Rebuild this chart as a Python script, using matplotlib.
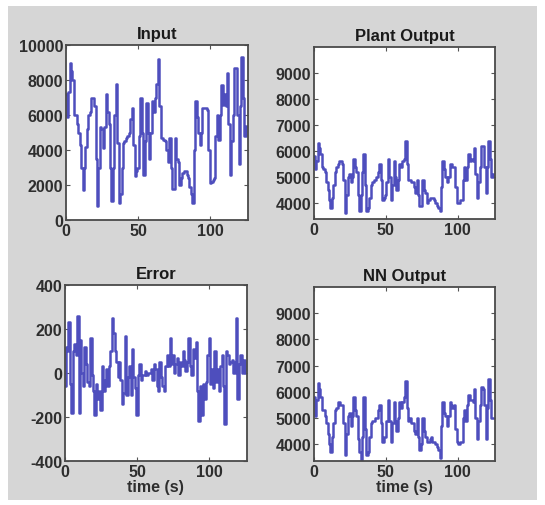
import matplotlib
matplotlib.use("Agg")
import matplotlib.pyplot as plt
import numpy as np
from matplotlib.patches import Rectangle

time_s = np.arange(126)

input_sig = [7200, 5900, 7300, 9000, 8500, 8000, 6000, 6000, 5500, 5000,
             4300, 3000, 1700, 3000, 4200, 5200, 6000, 6200, 7000, 7000,
             6500, 3500, 800, 3000, 5300, 5200, 4100, 5300, 7200, 6200,
             5500, 3000, 1100, 3000, 6000, 7800, 4400, 1000, 1500, 3000,
             4400, 4500, 4700, 4800, 5000, 5800, 6400, 4300, 2500, 2800,
             3000, 4800, 7000, 5000, 2600, 4500, 6700, 5000, 3500, 5000,
             6800, 6200, 7000, 7800, 9200, 6500, 4700, 4700, 4600, 4500,
             4000, 3300, 4700, 3000, 1800, 1800, 4700, 3500, 3300, 2000,
             2400, 2700, 2800, 2800, 2600, 2400, 1900, 1500, 1000, 4000,
             6800, 5900, 5000, 4300, 5000, 6400, 6400, 6400, 6300, 4000,
             2100, 2200, 2300, 2400, 4800, 6000, 4600, 6000, 7700, 6600,
             7200, 6500, 8400, 5500, 2600, 4500, 6000, 8700, 8700, 6000,
             3200, 6500, 9300, 7000, 4800, 5400]

plant_out = [5800, 5300, 5600, 6300, 6100, 5900, 5400, 5300, 5200, 4800,
             4500, 4100, 3800, 4200, 4700, 5200, 5400, 5500, 5600, 5600,
             5500, 4900, 3600, 4300, 5000, 5100, 4800, 5000, 5700, 5400,
             5200, 4300, 3700, 4300, 5200, 5900, 4700, 3700, 3800, 4200,
             4700, 4800, 4900, 4900, 5000, 5200, 5500, 4900, 4100, 4200,
             4300, 4800, 5700, 5000, 4100, 4700, 5600, 5000, 4500, 4900,
             5500, 5400, 5600, 5700, 6400, 5500, 4900, 4900, 4800, 4800,
             4600, 4400, 4900, 4300, 3900, 3900, 4900, 4500, 4400, 4000,
             4100, 4200, 4200, 4200, 4100, 4000, 3900, 3800, 3700, 4600,
             5600, 5300, 5000, 4800, 5000, 5500, 5500, 5400, 5400, 4600,
             4000, 4000, 4100, 4100, 4900, 5400, 4900, 5400, 5900, 5600,
             5700, 5600, 6100, 5100, 4200, 4800, 5400, 6200, 6200, 5400,
             4400, 5400, 6400, 5700, 5000, 5100]

nn_out = [5800, 5100, 5700, 6350, 6100, 5800, 5300, 5300, 5100, 4800,
          4400, 4000, 3700, 4300, 4800, 5300, 5400, 5600, 5600, 5500,
          5500, 4800, 3600, 4400, 5100, 5200, 4700, 5100, 5800, 5300,
          5100, 4200, 3700, 3400, 4300, 5800, 4600, 3600, 3700, 4300,
          4800, 4900, 4900, 5000, 5000, 5300, 5500, 4800, 4100, 4300,
          4300, 4900, 5700, 4900, 4100, 4800, 5600, 4900, 4500, 5000,
          5600, 5400, 5600, 5800, 6400, 5400, 4900, 5000, 4800, 4800,
          4500, 4400, 5000, 4300, 3800, 4000, 5000, 4500, 4300, 4100,
          4100, 4200, 4300, 4100, 4100, 4000, 3900, 3800, 3500, 4700,
          5600, 5200, 5100, 4700, 5100, 5600, 5500, 5400, 5500, 4600,
          4100, 4000, 4100, 4100, 5000, 5300, 4900, 5500, 5900, 5700,
          5700, 5600, 6100, 5000, 4200, 4900, 5500, 6200, 6100, 5500,
          4200, 5400, 6500, 5700, 5000, 5000]

error_sig = [-60, 120, 100, 230, -50, -180, 100, 130, 80, 260,
             -180, 150, 0, -60, 120, 40, -40, -60, 160, -10,
             -80, -190, -50, -120, -80, -170, 30, -80, -30, 20,
             -60, 30, 100, 250, 180, 100, 50, -20, 50, -30,
             -140, -90, 170, -100, -20, 30, -100, 110, -20, -70,
             -190, -10, 40, -30, -10, -10, 10, -10, 0, 0,
             20, -30, 40, 20, -60, -80, 50, -20, -60, -80,
             30, 80, 30, 160, 40, 80, 0, 40, 70, -10,
             50, 30, 100, 60, 10, 50, 160, 30, -10, 110,
             70, 140, -80, -220, -60, -190, -50, -120, -40, 80,
             160, -50, 20, -70, 100, -40, 20, -80, 30, 80,
             -60, -230, 100, 80, 40, 50, 60, 0, 50, 250,
             -120, 40, 80, 0, 60, 0]

titles = ["Input", "Plant Output", "Error", "NN Output"]


def draw_panel(ax, y, title, ylim, yticks, xlabel=None):
	ax.plot(time_s, y, color="#4e4ebd", lw=1.8, drawstyle="steps-mid")
	ax.set_xlim(0, 126)
	ax.set_ylim(*ylim)
	ax.set_xticks([0, 50, 100])
	ax.set_yticks(yticks)
	ax.tick_params(direction="in", top=True, right=True, length=3,
	               labelsize=11.5, labelcolor="#2e2e2e", color="#555555", pad=2)
	for lab in ax.get_xticklabels() + ax.get_yticklabels():
		lab.set_fontweight("bold")
	for sp in ax.spines.values():
		sp.set_color("#4a4a4a")
		sp.set_linewidth(1.3)
	ax.set_title(title, fontsize=12, fontweight="bold", color="#1a1a1a", pad=5)
	if xlabel:
		ax.set_xlabel(xlabel, fontsize=11.5, fontweight="bold", color="#2e2e2e", labelpad=0)


def main():
	plt.rcParams["font.family"] = ["Liberation Sans", "DejaVu Sans"]
	plt.rcParams["axes.unicode_minus"] = False
	fig = plt.figure(figsize=(5.45, 5.06), dpi=100, facecolor="white")
	# grey figure window inside a thin white border
	fig.patches.append(Rectangle((8 / 545, 5 / 506), 529 / 545, 494 / 506,
	                             transform=fig.transFigure, facecolor="#d6d6d6",
	                             edgecolor="none", zorder=-10))

	ax1 = fig.add_axes([0.121, 0.563, 0.334, 0.346])
	ax2 = fig.add_axes([0.576, 0.565, 0.332, 0.340])
	ax3 = fig.add_axes([0.119, 0.087, 0.334, 0.348])
	ax4 = fig.add_axes([0.576, 0.087, 0.332, 0.344])

	draw_panel(ax1, input_sig, titles[0], (0, 10000), np.arange(0, 10001, 2000))
	draw_panel(ax2, plant_out, titles[1], (3380, 10000), np.arange(4000, 9001, 1000))
	draw_panel(ax3, error_sig, titles[2], (-400, 400), np.arange(-400, 401, 200), "time (s)")
	draw_panel(ax4, nn_out, titles[3], (3370, 10000), np.arange(4000, 9001, 1000), "time (s)")

	fig.savefig("out.png", dpi=100, facecolor=fig.get_facecolor())


if __name__ == '__main__':
	main()
